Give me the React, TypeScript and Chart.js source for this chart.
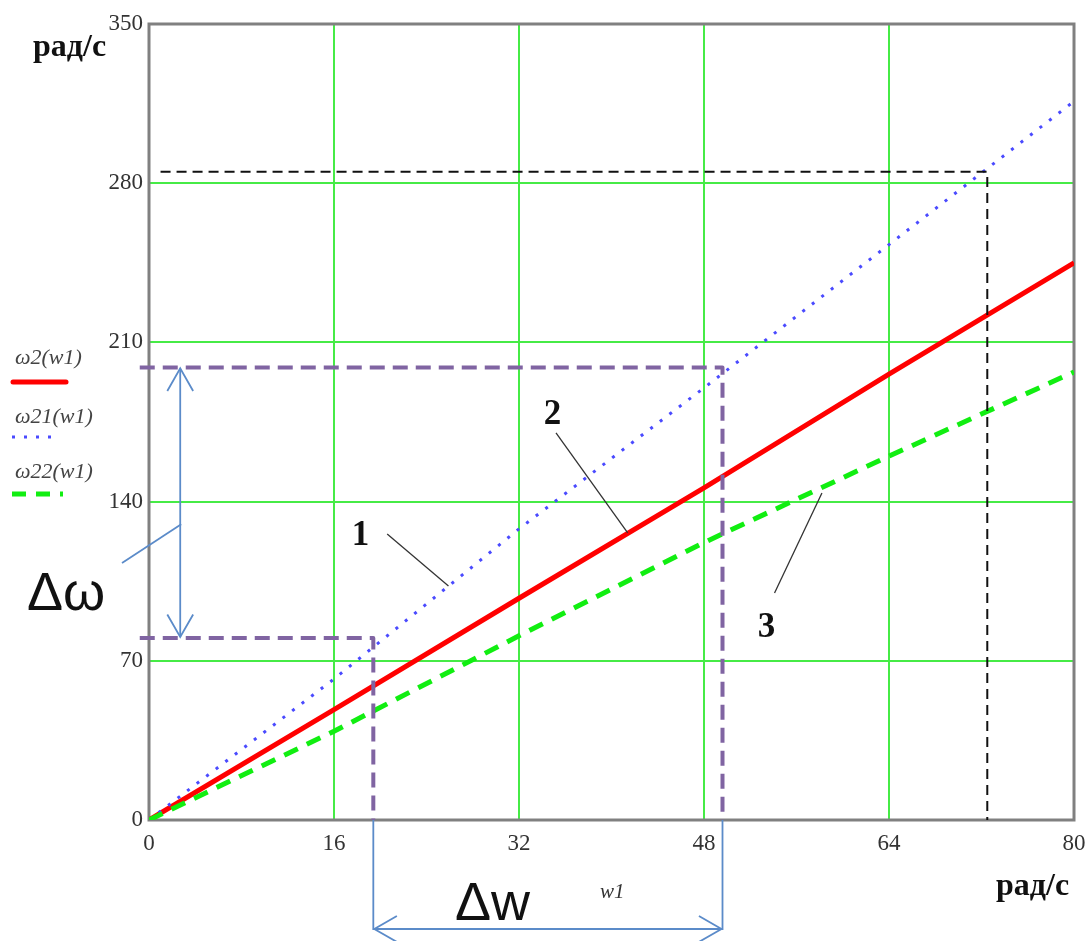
import React, { useEffect, useRef } from "react";
import { Chart, registerables } from "chart.js";
Chart.register(...registerables);

// ---- data ----
const xTicks = [0, 16, 32, 48, 64, 80];
const yTicks = [0, 70, 140, 210, 280, 350];
const w1Values = [0, 16, 32, 48, 64, 80];
const omega2 = [0, 48.5, 97.5, 146, 196, 245];
const omega21 = [0, 62, 128, 190, 253, 316];
const omega22 = [0, 39, 81, 122, 160, 197];
const seriesNames = ["ω2(w1)", "ω21(w1)", "ω22(w1)"];
const unitLabel = "рад/с";
const xVarLabel = "w1";

// guide lines (data coordinates)
const guideBlackX = [1, 72.5, 72.5];
const guideBlackY = [285, 285, 0];
const guideUpperX = [-0.8, 49.6, 49.6];
const guideUpperY = [199, 199, 0];
const guideLowerX = [-0.8, 19.4, 19.4];
const guideLowerY = [80, 80, 0];

// curve number labels and leader lines (data coordinates)
const curveLabels = ["1", "2", "3"];
const curveLabelX = [18.3, 34.9, 53.4];
const curveLabelY = [124.9, 178.1, 84.4];
const leaderFromX = [20.6, 35.2, 54.1];
const leaderFromY = [125.8, 170.2, 99.8];
const leaderToX = [25.9, 41.4, 58.2];
const leaderToY = [102.9, 126.2, 143.8];

const deltaOmegaX = 2.7;

const GREEN_GRID = "rgb(70,235,70)";
const SERIF = "'Liberation Serif', 'Times New Roman', serif";
const SANS = "'Liberation Sans', Arial, sans-serif";

function pts(xs: number[], ys: number[]) {
  return xs.map((x, i) => ({ x, y: ys[i] }));
}

function arrowHead(ctx: CanvasRenderingContext2D, tx: number, ty: number, fx: number, fy: number) {
  const ang = Math.atan2(fy - ty, fx - tx);
  const len = 26;
  const spread = 0.52;
  ctx.beginPath();
  ctx.moveTo(tx + len * Math.cos(ang - spread), ty + len * Math.sin(ang - spread));
  ctx.lineTo(tx, ty);
  ctx.lineTo(tx + len * Math.cos(ang + spread), ty + len * Math.sin(ang + spread));
  ctx.stroke();
}

function doubleArrow(ctx: CanvasRenderingContext2D, x1: number, y1: number, x2: number, y2: number) {
  ctx.beginPath();
  ctx.moveTo(x1, y1);
  ctx.lineTo(x2, y2);
  ctx.stroke();
  arrowHead(ctx, x1, y1, x2, y2);
  arrowHead(ctx, x2, y2, x1, y1);
}

const overlay = {
  id: "overlay",
  beforeDatasetsDraw(chart: any) {
    const { ctx, chartArea: a } = chart;
    ctx.save();
    ctx.strokeStyle = "#808080";
    ctx.lineWidth = 3;
    ctx.strokeRect(a.left, a.top, a.right - a.left, a.bottom - a.top);
    ctx.restore();
  },
  afterDatasetsDraw(chart: any) {
    const { ctx, chartArea: a, scales } = chart;
    const xs = scales.x;
    const ys = scales.y;
    ctx.save();

    // axis unit labels
    ctx.fillStyle = "#111";
    ctx.font = `bold 32px ${SERIF}`;
    ctx.textAlign = "left";
    ctx.textBaseline = "alphabetic";
    ctx.fillText(unitLabel, 33, 56);
    ctx.fillText(unitLabel, a.right - 78, a.bottom + 75);

    // x variable label
    ctx.font = `italic 21px ${SERIF}`;
    ctx.fillStyle = "#333";
    ctx.fillText(xVarLabel, xs.getPixelForValue(39), a.bottom + 78);

    // legend
    const legendY = [358, 417, 472];
    const sampleY = [382, 437, 494];
    ctx.font = `italic 22px ${SERIF}`;
    ctx.textBaseline = "middle";
    seriesNames.forEach((n, i) => {
      ctx.fillStyle = "#444";
      ctx.fillText(n, 15, legendY[i]);
    });
    ctx.lineCap = "round";
    ctx.strokeStyle = "#ff0000";
    ctx.lineWidth = 5;
    ctx.beginPath();
    ctx.moveTo(13, sampleY[0]);
    ctx.lineTo(66, sampleY[0]);
    ctx.stroke();
    ctx.lineCap = "butt";
    ctx.strokeStyle = "#4a4aff";
    ctx.lineWidth = 3;
    ctx.setLineDash([3, 9]);
    ctx.beginPath();
    ctx.moveTo(12, sampleY[1]);
    ctx.lineTo(60, sampleY[1]);
    ctx.stroke();
    ctx.strokeStyle = "#11ee11";
    ctx.lineWidth = 5;
    ctx.setLineDash([14, 10]);
    ctx.beginPath();
    ctx.moveTo(12, sampleY[2]);
    ctx.lineTo(63, sampleY[2]);
    ctx.stroke();
    ctx.setLineDash([]);

    // curve number labels + leaders
    ctx.strokeStyle = "#333";
    ctx.lineWidth = 1.3;
    curveLabels.forEach((t, i) => {
      ctx.beginPath();
      ctx.moveTo(xs.getPixelForValue(leaderFromX[i]), ys.getPixelForValue(leaderFromY[i]));
      ctx.lineTo(xs.getPixelForValue(leaderToX[i]), ys.getPixelForValue(leaderToY[i]));
      ctx.stroke();
    });
    ctx.fillStyle = "#111";
    ctx.font = `bold 35px ${SERIF}`;
    ctx.textAlign = "center";
    ctx.textBaseline = "middle";
    curveLabels.forEach((t, i) => {
      ctx.fillText(t, xs.getPixelForValue(curveLabelX[i]), ys.getPixelForValue(curveLabelY[i]));
    });

    // delta arrows (blue)
    ctx.strokeStyle = "#5b8bc9";
    ctx.lineWidth = 1.8;
    ctx.lineCap = "butt";
    const dax = xs.getPixelForValue(deltaOmegaX);
    doubleArrow(ctx, dax, ys.getPixelForValue(guideUpperY[0]) + 1, dax, ys.getPixelForValue(guideLowerY[0]) - 1);
    // leader from Δω label
    ctx.beginPath();
    ctx.moveTo(122, 563);
    ctx.lineTo(dax + 1, ys.getPixelForValue(130));
    ctx.stroke();

    const wl = xs.getPixelForValue(guideLowerX[1]);
    const wr = xs.getPixelForValue(guideUpperX[1]);
    const wy = a.bottom + 109;
    ctx.beginPath();
    ctx.moveTo(wl, a.bottom);
    ctx.lineTo(wl, wy + 1);
    ctx.moveTo(wr, a.bottom);
    ctx.lineTo(wr, wy + 1);
    ctx.stroke();
    doubleArrow(ctx, wl + 1, wy, wr - 1, wy);

    // Δ labels
    ctx.fillStyle = "#111";
    ctx.font = `54px ${SANS}`;
    ctx.textAlign = "left";
    ctx.textBaseline = "alphabetic";
    ctx.fillText("Δω", 27, 610);
    ctx.fillText("Δw", 455, a.bottom + 100);

    ctx.restore();
  },
};

export default function App() {
  const ref = useRef<HTMLCanvasElement | null>(null);

  useEffect(() => {
    if (!ref.current) return;
    const gridColor = (c: any, max: number) =>
      c.tick && (c.tick.value === 0 || c.tick.value === max) ? "rgba(0,0,0,0)" : GREEN_GRID;

    const chart = new Chart(ref.current, {
      type: "line",
      data: {
        datasets: [
          {
            label: "guideBlack",
            data: pts(guideBlackX, guideBlackY),
            borderColor: "#111",
            borderWidth: 2,
            borderDash: [10, 6],
            pointRadius: 0,
            clip: false as any,
            fill: false,
          },
          {
            label: "guideUpper",
            data: pts(guideUpperX, guideUpperY),
            borderColor: "#8064a2",
            borderWidth: 4,
            borderDash: [15, 8],
            borderJoinStyle: "round",
            pointRadius: 0,
            clip: false as any,
            fill: false,
          },
          {
            label: "guideLower",
            data: pts(guideLowerX, guideLowerY),
            borderColor: "#8064a2",
            borderWidth: 4,
            borderDash: [15, 8],
            borderJoinStyle: "round",
            pointRadius: 0,
            clip: false as any,
            fill: false,
          },
          {
            label: seriesNames[2],
            data: pts(w1Values, omega22),
            borderColor: "#11ee11",
            borderWidth: 5,
            borderDash: [15, 10],
            pointRadius: 0,
            fill: false,
          },
          {
            label: seriesNames[1],
            data: pts(w1Values, omega21),
            borderColor: "#4a4aff",
            borderWidth: 3,
            borderDash: [3, 9],
            pointRadius: 0,
            fill: false,
          },
          {
            label: seriesNames[0],
            data: pts(w1Values, omega2),
            borderColor: "#ff0000",
            borderWidth: 5,
            pointRadius: 0,
            fill: false,
          },
        ],
      },
      options: {
        responsive: false,
        animation: false,
        events: [],
        layout: { padding: { left: 0, top: 24, right: 18, bottom: 0 } },
        plugins: { legend: { display: false }, tooltip: { enabled: false } },
        scales: {
          x: {
            type: "linear",
            min: xTicks[0],
            max: xTicks[xTicks.length - 1],
            afterBuildTicks: (s: any) => {
              s.ticks = xTicks.map((v) => ({ value: v }));
            },
            afterFit: (s: any) => {
              s.height = 121;
              s.paddingLeft = 0;
              s.paddingRight = 0;
            },
            ticks: {
              padding: 10,
              color: "#333",
              font: { family: SERIF, size: 23 },
              maxRotation: 0,
              autoSkip: false,
            },
            grid: { color: (c: any) => gridColor(c, 80), lineWidth: 2, drawTicks: false },
            border: { display: false },
          },
          y: {
            type: "linear",
            min: yTicks[0],
            max: yTicks[yTicks.length - 1],
            afterBuildTicks: (s: any) => {
              s.ticks = yTicks.map((v) => ({ value: v }));
            },
            afterFit: (s: any) => {
              s.width = 149;
              s.paddingTop = 0;
              s.paddingBottom = 0;
            },
            ticks: {
              padding: 6,
              color: "#333",
              font: { family: SERIF, size: 23 },
              autoSkip: false,
            },
            grid: { color: (c: any) => gridColor(c, 350), lineWidth: 2, drawTicks: false },
            border: { display: false },
          },
        },
      },
      plugins: [overlay],
    } as any);
    return () => chart.destroy();
  }, []);

  return (
    <div style={{ position: "absolute", left: 0, top: 0, width: 1092, height: 941, background: "#fff" }}>
      <canvas ref={ref} width={1092} height={941} style={{ display: "block" }} />
    </div>
  );
}
